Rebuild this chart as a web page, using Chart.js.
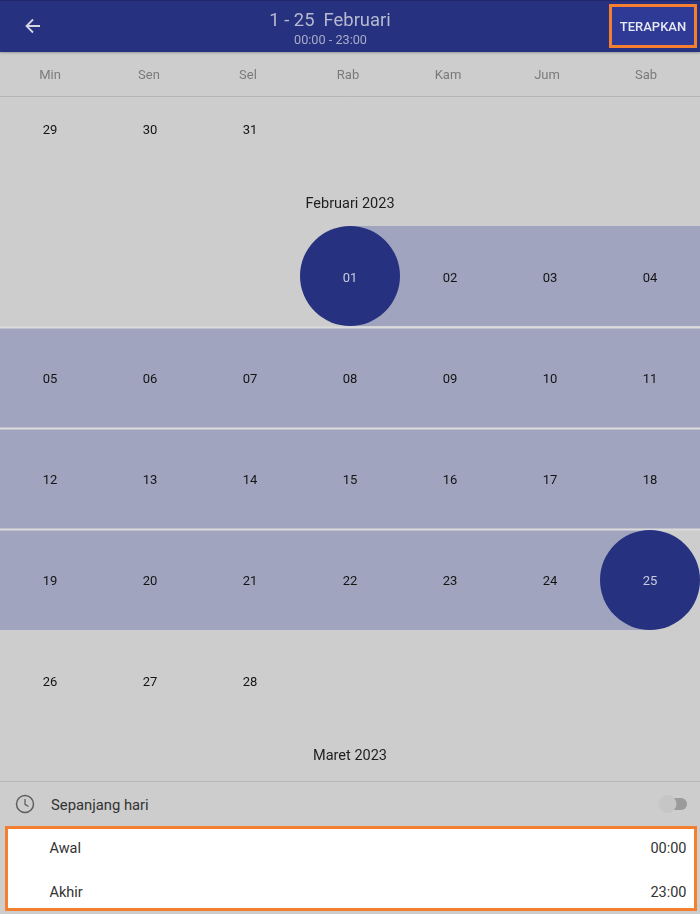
<!DOCTYPE html>
<html><head><meta charset="utf-8">
<script src="https://cdn.jsdelivr.net/npm/chart.js@4"></script>
<style>
html,body{margin:0;padding:0;background:#cdcdcd;width:700px;height:914px;overflow:hidden;font-family:Roboto,sans-serif}
#page{position:relative;width:700px;height:914px}
.t{position:absolute;white-space:pre;line-height:1;transform:translateY(-50%)}
#hdr{position:absolute;left:0;top:0;width:700px;height:52px;background:#26317f;box-shadow:0 1px 2px rgba(0,0,0,.25);border-top:1px solid #1f2768;box-sizing:border-box}
#btn{position:absolute;left:609px;top:4px;width:88px;height:44px;box-sizing:border-box;border:3px solid #f47f30;background:#2f3a97}
#wrap{position:absolute;left:0;top:52px;width:700px;height:729px}
#rule{position:absolute;left:0;top:781px;width:700px;height:1px;background:#b9b9b9}
#panel{position:absolute;left:5px;top:826px;width:692px;height:85px;box-sizing:border-box;border:3px solid #f47f30;background:#fff}
svg{position:absolute}
</style></head>
<body><div id="page">
<div id="wrap"><canvas id="c" width="700" height="729"></canvas></div>
<div id="hdr"></div>
<svg style="left:23px;top:16px" width="20" height="20" viewBox="0 0 20 20"><path d="M17 10H3.5M10 3.5L3.5 10l6.5 6.5" fill="none" stroke="#d4d6e2" stroke-width="1.8"/></svg>
<div class="t" style="left:0;width:660px;text-align:center;top:19.5px;font-size:18.4px;color:#b6b9cf" id="title"></div>
<div class="t" style="left:0;width:661px;text-align:center;top:39.5px;font-size:12.7px;color:#a9adc8" id="sub"></div>
<div id="btn"></div>
<div class="t" style="left:609px;width:88px;text-align:center;top:26px;font-size:13px;font-weight:500;color:#e6e8f4" id="apply"></div>
<div id="rule"></div>
<svg style="left:15px;top:794px" width="20" height="20" viewBox="0 0 20 20"><circle cx="10" cy="10" r="8.5" fill="none" stroke="#5f5f5f" stroke-width="1.5"/><path d="M10 5v5.3l3.5 2.2" fill="none" stroke="#5f5f5f" stroke-width="1.3"/></svg>
<div class="t" style="left:51px;top:804.5px;font-size:14.8px;color:#333" id="allday"></div>
<svg style="left:655px;top:792px" width="36" height="24" viewBox="0 0 36 24"><rect x="9" y="6" width="23" height="12" rx="6" fill="#9b9b9b"/><circle cx="12.5" cy="12" r="9" fill="#c6c6c6"/></svg>
<div id="panel"></div>
<div class="t" style="left:49.5px;top:848.5px;font-size:14.5px;color:#333" id="l1"></div>
<div class="t" style="left:49.5px;top:892.5px;font-size:14.5px;color:#333" id="l2"></div>
<div class="t" style="right:13.5px;top:848.5px;font-size:14.5px;color:#333" id="r1"></div>
<div class="t" style="right:13.5px;top:892.5px;font-size:14.5px;color:#333" id="r2"></div>
</div>
<script>
// Calendar content
const weekdays = ['Min','Sen','Sel','Rab','Kam','Jum','Sab'];
const weekdayCol = [0, 0.99, 1.98, 2.98, 3.98, 4.97, 5.96];
const janDays = ['29','30','31'];
const febWeek1 = ['01','02','03','04'];
const febWeek2 = ['05','06','07','08','09','10','11'];
const febWeek3 = ['12','13','14','15','16','17','18'];
const febWeek4 = ['19','20','21','22','23','24','25'];
const febWeek5 = ['26','27','28'];
const weekLists = [janDays, febWeek1, febWeek2, febWeek3, febWeek4, febWeek5];
const weekStartCol = [0, 3, 0, 0, 0, 0];
const weekRow = [-1.465, 0, 1, 2, 3, 4];
const monthNames = ['Februari 2023', 'Maret 2023'];
const monthRow = [-0.733, 4.733];
// Selected range, in calendar columns/rows
const rangeRow = [-0.01, 1, 2, 3];
const rangeFrom = [3, -0.5, -0.5, -0.5];
const rangeTo = [6.5, 6.5, 6.5, 6];
const endCol = [3, 6];
const endRow = [-0.01, 3];
const separators = [0.5, 1.5, 2.5];
const texts = {title:'1 - 25  Februari', sub:'00:00 - 23:00', apply:'TERAPKAN', allday:'Sepanjang hari', l1:'Awal', l2:'Akhir', r1:'00:00', r2:'23:00'};
for (const k in texts) document.getElementById(k).textContent = texts[k];

const NAVY='#26317f', BAND='#a0a4bf', SEP='#dcdcdc', HALF=0.495;
const datasets = [];
rangeRow.forEach((r,i)=>{
  datasets.push({type:'line',data:[{x:rangeFrom[i],y:r-HALF},{x:rangeTo[i],y:r-HALF}],borderWidth:0,pointRadius:0,backgroundColor:BAND,fill:{value:r+HALF},order:3});
});
separators.forEach(s=>{
  datasets.push({type:'line',data:[{x:-0.5,y:s},{x:6.5,y:s}],borderColor:SEP,borderWidth:2,pointRadius:0,fill:false,order:2});
});
datasets.push({type:'scatter',data:endCol.map((c,i)=>({x:c,y:endRow[i]})),pointRadius:50,pointHoverRadius:50,backgroundColor:NAVY,borderWidth:0,order:1});

const textPlugin = {id:'calText',afterDatasetsDraw(chart){
  const {ctx,scales:{x,y}}=chart;
  ctx.save();ctx.textAlign='center';ctx.textBaseline='middle';
  ctx.font='13px Roboto';
  weekLists.forEach((list,i)=>list.forEach((d,j)=>{
    const col=weekStartCol[i]+j, row=weekRow[i];
    const isEnd=endCol.some((c,k)=>c===col&&Math.abs(endRow[k]-row)<0.1);
    ctx.fillStyle=isEnd?'#c9ccdc':'#141414';
    ctx.fillText(d,x.getPixelForValue(col),y.getPixelForValue(row)+1.5);
  }));
  ctx.font='14.5px Roboto';ctx.fillStyle='#1e1e1e';
  monthNames.forEach((m,i)=>ctx.fillText(m,x.getPixelForValue(3),y.getPixelForValue(monthRow[i])+1.5));
  ctx.restore();
}};

new Chart(document.getElementById('c'),{
  type:'scatter',
  data:{datasets},
  plugins:[textPlugin],
  options:{
    responsive:false,animation:false,events:[],
    layout:{padding:0,autoPadding:false},
    plugins:{legend:{display:false},title:{display:false},tooltip:{enabled:false}},
    scales:{
      x:{type:'linear',position:'top',min:-0.5,max:6.5,
        afterBuildTicks(s){s.ticks=weekdayCol.map(v=>({value:v}));},
        afterFit(s){s.height=44;},
        grid:{display:false},
        border:{display:true,color:'#b5b5b5',width:1},
        ticks:{autoSkip:false,maxRotation:0,padding:4,color:'#7a7a7a',font:{family:'Roboto',size:13},
          callback:(v,i)=>weekdays[i]}},
      y:{type:'linear',display:false,reverse:true,min:-1.792,max:4.99}
    }
  }
});
</script>
</body></html>
